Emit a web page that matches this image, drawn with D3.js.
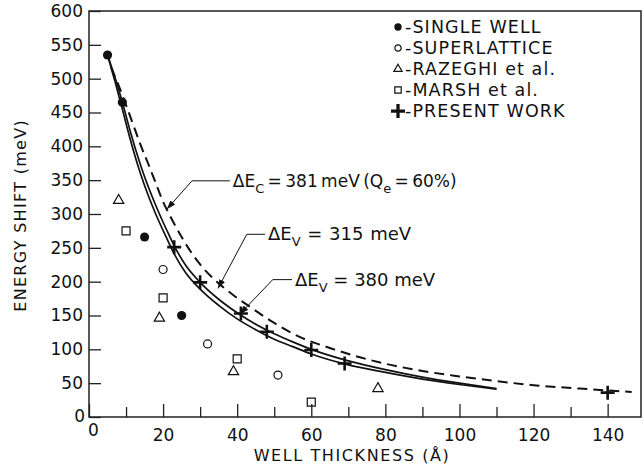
<!DOCTYPE html>
<html>
<head>
<meta charset="utf-8">
<script src="https://cdn.jsdelivr.net/npm/d3@7"></script>
<style>
	body { margin: 0; background: #fff; }
	svg { display: block; font-family: 'DejaVu Sans', sans-serif; }
</style>
</head>
<body>
<div id="chart"></div>
<script>
//Measured points (well thickness in A, energy shift in meV)
const singleWellX = [5, 9, 15, 25];
const singleWellY = [535, 465, 266, 150];
const superlatticeX = [20, 32, 51];
const superlatticeY = [218, 108, 62];
const razeghiX = [8, 19, 39, 78];
const razeghiY = [320, 146, 67, 42];
const marshX = [10, 20, 40, 60];
const marshY = [275, 176, 86, 22];
const presentX = [23, 30, 41, 48, 60, 69, 140];
const presentY = [251, 199, 153, 126, 99, 79, 36];

//Calculated curves
const dashedCurveX = [6, 8, 10, 12, 14, 16, 18, 20, 22, 25, 28, 31, 34.5, 39, 43.4, 50, 57, 65, 72, 79, 90, 100, 110, 120, 132.5, 146.5];
const dashedCurveY = [516, 490, 461, 431, 401, 374, 346, 318, 296, 266, 240, 219, 200, 180, 163, 139, 118, 102, 90, 80, 68, 60, 53, 47, 42, 37];
const upperCurveX = [5, 7, 9, 11, 13, 15, 18, 21, 23, 26, 30, 35, 40, 45, 50, 55, 60, 70, 80, 90, 100, 110];
const upperCurveY = [535, 502, 465, 425, 388, 355, 313, 276, 253, 225, 199, 174, 154, 137, 123, 111, 100, 83, 70, 59, 50, 42];
const lowerCurveX = [5, 7, 9, 11, 13, 15, 18, 21, 23, 26, 30, 35, 40, 45, 50, 55, 60, 70, 80, 90, 100, 110];
const lowerCurveY = [535, 496, 455, 413, 375, 342, 300, 264, 241, 214, 189, 165, 145, 129, 115, 104, 93, 77, 66, 56, 48, 41];

//Axis ticks and legend
const xTickValues = [0, 10, 20, 30, 40, 50, 60, 70, 80, 90, 100, 110, 120, 130, 140];
const yTickValues = [0, 50, 100, 150, 200, 250, 300, 350, 400, 450, 500, 550, 600];
const legendLabels = ['-SINGLE WELL', '-SUPERLATTICE', '-RAZEGHI et al.', '-MARSH et al.', '-PRESENT WORK'];
const legendKinds = ['filled', 'open', 'triangle', 'square', 'plus'];

class ShiftChart {
	constructor(_config) {
		this.config = {
			parentElement: _config.parentElement,
			containerWidth: 643,
			containerHeight: 470,
			margin: {top: 11, right: 2, bottom: 53, left: 89},
		};
		this.initVis();
	}

	initVis() {
		let vis = this;

		vis.width = vis.config.containerWidth - vis.config.margin.left - vis.config.margin.right;
		vis.height = vis.config.containerHeight - vis.config.margin.top - vis.config.margin.bottom;

		vis.xScale = d3.scaleLinear()
			.domain([0, 149])
			.range([0, vis.width]);

		vis.yScale = d3.scaleLinear()
			.domain([0, 600])
			.range([vis.height, 0]);

		vis.svg = d3.select(vis.config.parentElement).append('svg')
			.attr('width', vis.config.containerWidth)
			.attr('height', vis.config.containerHeight);

		//Arrow head for the curve labels
		vis.svg.append('defs').append('marker')
			.attr('id', 'arrow')
			.attr('viewBox', '0 0 10 10')
			.attr('refX', 10)
			.attr('refY', 5)
			.attr('markerWidth', 9)
			.attr('markerHeight', 9)
			.attr('markerUnits', 'userSpaceOnUse')
			.attr('orient', 'auto')
			.append('path')
			.attr('d', 'M0,1.5L10,5L0,8.5Z')
			.attr('fill', '#111');

		vis.chartArea = vis.svg.append('g')
			.attr('transform', `translate(${vis.config.margin.left},${vis.config.margin.top})`);

		vis.renderVis();
	}

	renderVis() {
		let vis = this;

		//Axes with ticks pointing inward
		vis.xAxis = d3.axisBottom(vis.xScale)
			.tickValues(xTickValues)
			.tickSizeInner(-13)
			.tickSizeOuter(0)
			.tickPadding(12)
			.tickFormat(d => d % 20 === 0 ? d : '');

		vis.yAxis = d3.axisLeft(vis.yScale)
			.tickValues(yTickValues)
			.tickSizeInner(-12)
			.tickSizeOuter(0)
			.tickPadding(6);

		const xg = vis.chartArea.append('g')
			.attr('class', 'x-axis')
			.attr('transform', `translate(0, ${vis.height})`)
			.call(vis.xAxis);
		xg.select('.domain').remove();
		xg.selectAll('line')
			.attr('y2', d => d % 20 === 0 ? -13 : -10)
			.attr('stroke', '#222')
			.attr('stroke-width', 1.3);
		xg.selectAll('text')
			.attr('font-size', 17)
			.attr('font-family', 'DejaVu Sans')
			.attr('fill', '#111');
		xg.selectAll('text').filter(d => d === 0)
			.attr('x', 4)
			.attr('y', 7);

		const yg = vis.chartArea.append('g')
			.attr('class', 'y-axis')
			.call(vis.yAxis);
		yg.select('.domain').remove();
		yg.selectAll('line')
			.attr('stroke', '#222')
			.attr('stroke-width', 1.3);
		yg.selectAll('text')
			.attr('font-size', 17)
			.attr('font-family', 'DejaVu Sans')
			.attr('fill', '#111');
		yg.selectAll('text').filter(d => d === 0)
			.attr('x', -4)
			.attr('dy', '0.25em');

		//Frame
		vis.chartArea.append('rect')
			.attr('width', vis.width)
			.attr('height', vis.height)
			.attr('fill', 'none')
			.attr('stroke', '#222')
			.attr('stroke-width', 1.5);

		//Axis titles
		vis.chartArea.append('text')
			.attr('x', vis.xScale(71))
			.attr('y', vis.height + 44)
			.attr('text-anchor', 'middle')
			.attr('font-size', 16)
			.attr('letter-spacing', 1.6)
			.attr('fill', '#111')
			.text('WELL THICKNESS (Å)');

		vis.chartArea.append('text')
			.attr('transform', `translate(${-63}, ${vis.yScale(298)}) rotate(-90)`)
			.attr('text-anchor', 'middle')
			.attr('font-size', 16)
			.attr('letter-spacing', 1.3)
			.attr('fill', '#111')
			.text('ENERGY SHIFT (meV)');

		//Curves
		const line = d3.line()
			.x(d => vis.xScale(d[0]))
			.y(d => vis.yScale(d[1]))
			.curve(d3.curveMonotoneX);

		vis.chartArea.append('path')
			.attr('d', line(d3.zip(dashedCurveX, dashedCurveY)))
			.attr('fill', 'none')
			.attr('stroke', '#111')
			.attr('stroke-width', 2)
			.attr('stroke-dasharray', '10,6');

		[[upperCurveX, upperCurveY], [lowerCurveX, lowerCurveY]].forEach(c => {
			vis.chartArea.append('path')
				.attr('d', line(d3.zip(c[0], c[1])))
				.attr('fill', 'none')
				.attr('stroke', '#111')
				.attr('stroke-width', 1.7);
		});

		//Data markers
		vis.drawMarkers(d3.zip(singleWellX, singleWellY), 'filled', 1);
		vis.drawMarkers(d3.zip(superlatticeX, superlatticeY), 'open', 1);
		vis.drawMarkers(d3.zip(razeghiX, razeghiY), 'triangle', 1);
		vis.drawMarkers(d3.zip(marshX, marshY), 'square', 1);
		vis.drawMarkers(d3.zip(presentX, presentY), 'plus', 1);

		//Curve labels with arrows: [text start, elbow, tip] in data units
		const notes = [
			{pts: [[38, 349], [27.8, 349], [21, 307]], size: 17, spacing: -2, main: ['ΔE', 'C', ' = 381 meV (Q', 'e', ' = 60%)']},
			{pts: [[47.5, 270], [42.6, 270], [34.8, 190]], size: 18, spacing: 1, main: ['ΔE', 'V', ' = 315 meV']},
			{pts: [[54.8, 203], [49.6, 203], [40.7, 152]], size: 18, spacing: 0, main: ['ΔE', 'V', ' = 380 meV']},
		];

		notes.forEach(n => {
			vis.chartArea.append('polyline')
				.attr('points', n.pts.map(p => [vis.xScale(p[0]), vis.yScale(p[1])].join(',')).join(' '))
				.attr('fill', 'none')
				.attr('stroke', '#111')
				.attr('stroke-width', 1)
				.attr('marker-end', 'url(#arrow)');

			const t = vis.chartArea.append('text')
				.attr('x', vis.xScale(n.pts[0][0]) + 3)
				.attr('y', vis.yScale(n.pts[0][1]) + 6)
				.attr('font-size', n.size)
				.attr('word-spacing', n.spacing)
				.attr('fill', '#111');
			n.main.forEach((s, i) => {
				const sub = i % 2 === 1;
				t.append('tspan')
					.attr('font-size', sub ? 13 : n.size)
					.attr('dy', sub ? 6 : (i > 0 ? -6 : 0))
					.text(s);
			});
		});

		//Legend
		const legend = vis.svg.append('g')
			.attr('transform', 'translate(398, 27)');
		legendLabels.forEach((label, i) => {
			const row = legend.append('g')
				.attr('transform', `translate(0, ${i * 21})`);
			vis.drawSymbol(row, legendKinds[i], 0.8);
			row.append('text')
				.attr('x', 7)
				.attr('dy', '0.36em')
				.attr('font-size', 17.5)
				.attr('letter-spacing', 1.1)
				.attr('fill', '#111')
				.text(label);
		});
	}

	drawMarkers(points, kind, scale) {
		let vis = this;
		points.forEach(p => {
			const g = vis.chartArea.append('g')
				.attr('transform', `translate(${vis.xScale(p[0])},${vis.yScale(p[1])})`);
			vis.drawSymbol(g, kind, scale);
		});
	}

	drawSymbol(g, kind, scale) {
		if (kind === 'plus') {
			const h = 7;
			g.append('path')
				.attr('d', `M${-h},0H${h}M0,${-h}V${h}`)
				.attr('stroke', '#111')
				.attr('stroke-width', 2.6 / scale);
			return;
		}
		const shapes = {filled: d3.symbolCircle, open: d3.symbolCircle, triangle: d3.symbolTriangle, square: d3.symbolSquare};
		const sizes = {filled: 66, open: 50, triangle: 46, square: 64};
		g.append('path')
			.attr('d', d3.symbol().type(shapes[kind]).size(sizes[kind] * scale * scale)())
			.attr('fill', kind === 'filled' ? '#111' : 'none')
			.attr('stroke', '#111')
			.attr('stroke-width', kind === 'filled' ? 0 : 1.2);
	}
}

new ShiftChart({parentElement: '#chart'});
</script>
</body>
</html>
